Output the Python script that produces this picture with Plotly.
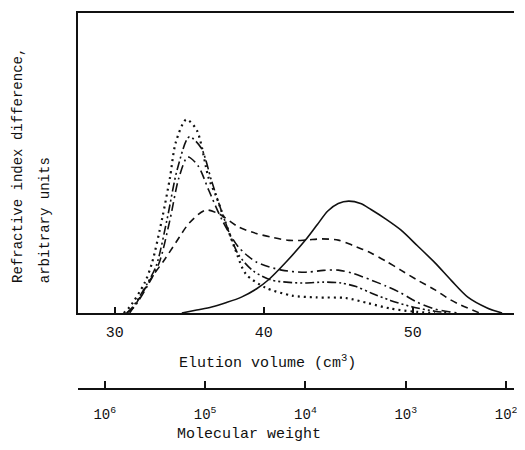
import math
import plotly.graph_objects as go

# ---- data (elution volume in cm^3, refractive index difference in arbitrary units) ----
dotted_x = [30.6, 31.0, 32.0, 32.5, 33.2, 33.7, 34.1, 34.8, 35.5, 36.3, 36.8, 38.1, 38.8, 40.1, 41.9, 43.5, 45.5, 47.0, 48.5, 50.0, 51.5]
dotted_y = [0, 2, 10, 16.7, 32, 45, 57, 64.5, 61, 45, 39, 21, 13, 8.5, 5.8, 5.2, 5.0, 3.3, 1.5, 0.5, 0]

dd_x = [30.8, 31.2, 32.2, 32.8, 33.5, 34.2, 35.0, 35.8, 36.5, 37.3, 38.3, 39.3, 40.5, 41.7, 42.8, 44.0, 45.2, 46.2, 47.2, 48.5, 50.0, 51.5, 52.5]
dd_y = [0, 2, 10, 16, 31, 48, 58.7, 55, 44, 32, 19.5, 14, 11, 10.2, 10, 10.3, 10, 8.8, 6.7, 4.2, 2.0, 0.6, 0]

dashdot_x = [30.8, 31.3, 32.3, 33.0, 33.7, 34.3, 34.9, 35.6, 36.3, 37.2, 38.3, 39.5, 41.2, 42.8, 44.0, 45.0, 46.0, 47.2, 48.2, 49.2, 50.3, 51.5, 53.0]
dashdot_y = [0, 2, 10, 17, 31, 45, 52, 49, 41, 31, 22, 17, 14.3, 13.6, 14.2, 14.3, 13.2, 11, 9, 6.7, 3.6, 1.3, 0]

dashed_x = [31.0, 31.5, 32.5, 33.3, 34.1, 35.0, 36.1, 37.0, 38.3, 39.5, 40.5, 41.7, 42.8, 43.9, 45.0, 46.0, 47.2, 48.2, 49.2, 50.3, 51.5, 52.5, 53.2, 54.5]
dashed_y = [0, 3.7, 12, 17.5, 23.5, 30, 34.3, 33, 28.7, 26.5, 25.3, 24.2, 24.3, 24.7, 24.3, 22.5, 20, 17.3, 14.3, 11, 7.7, 4.5, 2.7, 0]

solid_x = [34.5, 35.5, 36.5, 37.5, 38.5, 39.5, 40.3, 41.5, 42.8, 43.6, 44.3, 45.0, 45.7, 46.5, 47.2, 48.2, 49.2, 50.3, 51.5, 52.6, 53.7, 55.0, 56.0]
solid_y = [0, 1, 2, 3.5, 5.3, 8, 11, 17, 24.3, 29.5, 34, 36.5, 37.3, 36.5, 34.5, 31.3, 27.7, 22.5, 16.7, 10.8, 5.3, 1.7, 0]

elution_ticks = [30, 40, 50]
mw_ticks = [1e6, 1e5, 1e4, 1e3, 1e2]
mw_labels = ["10<sup>6</sup>", "10<sup>5</sup>", "10<sup>4</sup>", "10<sup>3</sup>", "10<sup>2</sup>"]

# molecular weight decreases to the right: place it on a -log10 scale
mw_pos = [-math.log10(v) for v in mw_ticks]

FONT = "Liberation Mono"
BLACK = "#111111"

fig = go.Figure()
series = [
    (solid_x, solid_y, "solid", 1.6),
    (dashed_x, dashed_y, "7px,5px", 1.6),
    (dashdot_x, dashdot_y, "9px,4px,2px,4px", 1.6),
    (dd_x, dd_y, "9px,3px,2px,3px,2px,3px", 1.6),
    (dotted_x, dotted_y, "2px,4px", 2.2),
]
for xs, ys, dash, w in series:
    fig.add_trace(go.Scatter(x=xs, y=ys, mode="lines",
                             line=dict(color=BLACK, width=w, dash=dash, shape="spline", smoothing=0.8),
                             showlegend=False, hoverinfo="skip"))

# invisible trace to carry the molecular-weight axis
fig.add_trace(go.Scatter(x=mw_pos, y=[None] * len(mw_pos), xaxis="x2", yaxis="y",
                         mode="markers", showlegend=False, hoverinfo="skip"))

fig.update_layout(
    width=509, height=434,
    margin=dict(l=70, r=0, t=5, b=53),
    paper_bgcolor="white", plot_bgcolor="white",
    font=dict(family=FONT, size=15, color=BLACK),
    xaxis=dict(range=[27.53, 56.8], tickvals=elution_ticks, ticks="inside", ticklen=6, tickwidth=2,
               tickcolor=BLACK, showline=True, linewidth=2, linecolor=BLACK, mirror=True,
               showgrid=False, zeroline=False, ticklabelstandoff=4,
               tickfont=dict(family=FONT, size=15), anchor="y"),
    yaxis=dict(range=[0, 100], domain=[0.2021, 1], showticklabels=False, ticks="",
               showline=True, linewidth=2, linecolor=BLACK, showgrid=False, zeroline=False,
               mirror=False),
    xaxis2=dict(range=[-6.267, -1.921], overlaying="x", anchor="free", position=0,
                side="bottom", tickvals=mw_pos, ticktext=mw_labels, ticks="inside", ticklen=7,
                tickwidth=2, tickcolor=BLACK, showline=True, linewidth=2, linecolor=BLACK,
                showgrid=False, zeroline=False, ticklabelstandoff=12, ticklabeloverflow="allow",
                tickfont=dict(family=FONT, size=14)),
    annotations=[
        dict(text="Elution volume (cm<sup>3</sup>)", x=0.435, y=0.0718, xref="paper", yref="paper",
             showarrow=False, xanchor="center", yanchor="middle", font=dict(family=FONT, size=15)),
        dict(text="Molecular weight", x=0.392, y=-0.1223, xref="paper", yref="paper",
             showarrow=False, xanchor="center", yanchor="middle", font=dict(family=FONT, size=15)),
        dict(text="Refractive index difference,", x=-0.1367, y=0.2766, xref="paper", yref="paper",
             showarrow=False, xanchor="center", yanchor="bottom", textangle=-90,
             font=dict(family=FONT, size=14)),
        dict(text="arbitrary units", x=-0.0752, y=0.2766, xref="paper", yref="paper",
             showarrow=False, xanchor="center", yanchor="bottom", textangle=-90,
             font=dict(family=FONT, size=14)),
    ],
)

fig.write_html("out.html")
